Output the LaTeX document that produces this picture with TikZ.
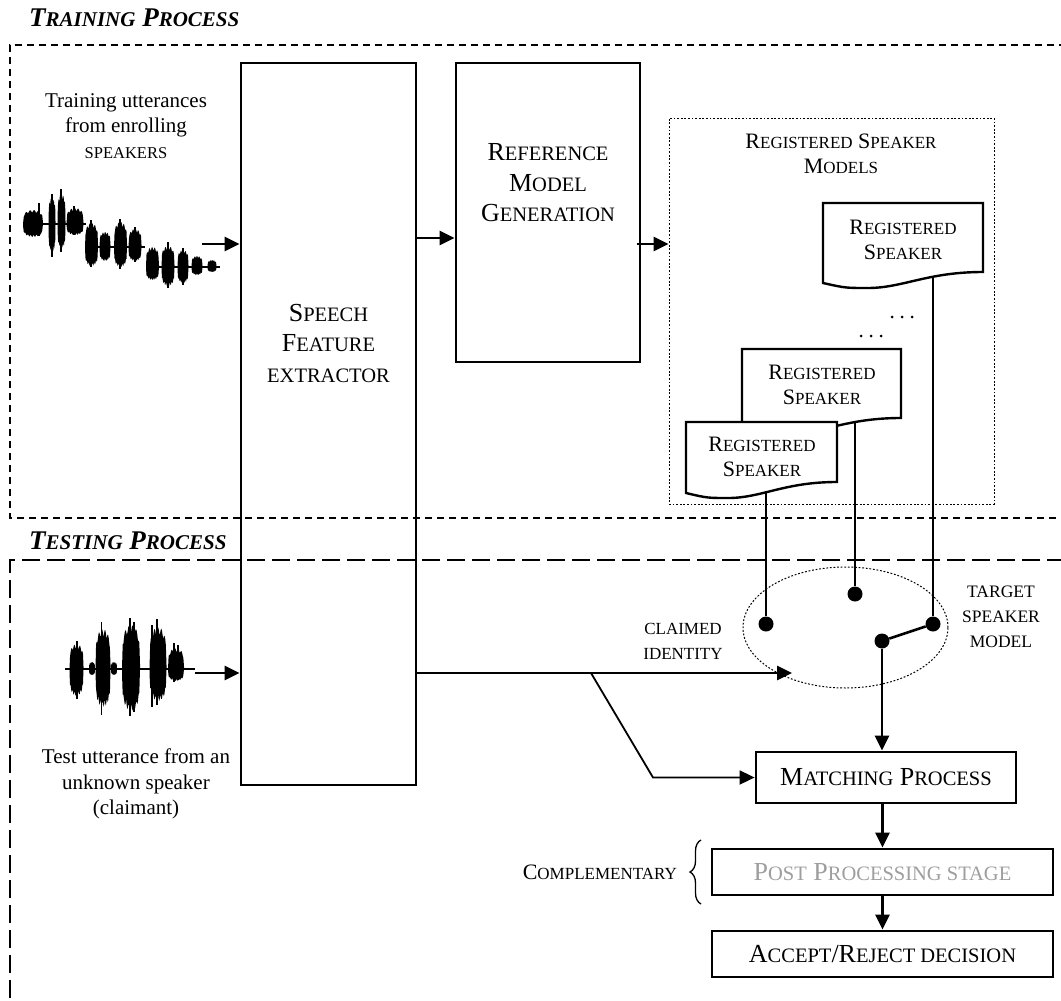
\documentclass[tikz,border=0pt]{standalone}
\usepackage{fontspec}
\setmainfont{Liberation Serif}
\usetikzlibrary{arrows.meta,shapes.geometric,decorations.pathreplacing}

% hand-made small capitals at the sizes used in the figure
\newcommand\smA[1]{{\fontsize{20.5}{20.5}\selectfont #1}}
\newcommand\smB[1]{{\fontsize{17}{17}\selectfont #1}}
\newcommand\smT[1]{{\fontsize{21}{21}\selectfont #1}}
\newcommand\smW[1]{{\fontsize{16.5}{16.5}\selectfont #1}}

% one ragged burst of a speech waveform: centre x, baseline y, half width, height above, depth below
\newcommand\burst[5]{%
  \fill plot[domain=-1:1,samples=27,variable=\t]
    ({#1+#3*\t},{#2-#4*sqrt(sqrt(max(0,1-\t*\t)))*(0.78+0.22*abs(sin(\t*1900+#1*37)))})
  -- plot[domain=1:-1,samples=27,variable=\t]
    ({#1+#3*\t},{#2+#5*sqrt(sqrt(max(0,1-\t*\t)))*(0.78+0.22*abs(cos(\t*1700+#1*53)))}) -- cycle;}
\newcommand\spike[3]{\draw[line width=1.8pt] (#1,#2) -- (#1,#3);}

% document symbol with a wavy lower edge
\newcommand\docshape[4]{%
  \draw[doc] (#1,#2) -- ({#1+#3},#2) -- ({#1+#3},{#2+#4})
    .. controls ({#1+0.65*#3},{#2+#4}) and ({#1+0.5*#3},{#2+#4+16}) .. ({#1+0.28*#3},{#2+#4+16})
    .. controls ({#1+0.14*#3},{#2+#4+16}) .. (#1,{#2+#4+11}) -- cycle;}

\begin{document}
\begin{tikzpicture}[x=1pt,y=-1pt,
  box/.style={draw, line width=2.8pt, inner sep=0},
  arr/.style={line width=2.6pt, -{Triangle[length=15pt,width=14pt]}},
  wire/.style={line width=2.6pt},
  dot/.style={circle, fill, inner sep=0, minimum size=15pt},
  doc/.style={fill=white, line width=2.4pt},
  bigtxt/.style={font=\fontsize{26}{30.5}\selectfont, align=center, inner sep=0},
  lbl/.style={font=\fontsize{22}{25}\selectfont, align=center, inner sep=0},
  txt/.style={font=\fontsize{21}{25.5}\selectfont, align=center, inner sep=0},
  tiny/.style={font=\fontsize{17}{25}\selectfont, align=center, inner sep=0},
  ttl/.style={font=\bfseries\itshape\fontsize{27}{27}\selectfont, anchor=base west, inner sep=0},
]
\useasboundingbox (0,0) rectangle (1061,1001);
\clip (0,0) rectangle (1061,1001);

% ---------- the two phases ----------
\draw[line width=2.1pt, dash pattern=on 7pt off 5pt] (1090,45) -- (10,45) -- (10,518) -- (1090,518);
\draw[line width=2.1pt, dash pattern=on 18pt off 7pt] (1090,560) -- (10,560) -- (10,1030);
\node[ttl] (trtitle) at (29,26) {T\smT{RAINING} P\smT{ROCESS}};
\node[ttl] (tetitle) at (29,549) {T\smT{ESTING} P\smT{ROCESS}};

% ---------- main blocks ----------
\node[box, minimum width=175pt, minimum height=722pt] (speech) at (328.5,424) {};
\node[bigtxt] (speecht) at (328.5,343) {S\smA{PEECH}\\F\smA{EATURE}\\\smA{EXTRACTOR}};
\node[box, minimum width=184pt, minimum height=299pt] (ref) at (548,212.5) {};
\node[bigtxt] (reft) at (548,183) {R\smA{EFERENCE}\\M\smA{ODEL}\\G\smA{ENERATION}};

% ---------- registered speaker models ----------
\node[draw, line width=1pt, dash pattern=on 1.8pt off 1.8pt, minimum width=325pt, minimum height=386pt, inner sep=0] (reg) at (831.5,311) {};
\node[lbl] (regt) at (841,154) {R\smB{EGISTERED} S\smB{PEAKER}\\M\smB{ODELS}};

% lines leaving the models (drawn first, the sheets cover their upper ends)
\coordinate (m1) at (933,268);
\coordinate (m2) at (856,412);
\coordinate (m3) at (766,480);
\node[dot] (d1) at (933,624) {};
\node[dot] (d2) at (855,594) {};
\node[dot] (d3) at (766,624) {};
\node[dot] (piv) at (882,641) {};
\draw[wire] (m1) -- (d1);
\draw[wire] (m2 -| d2) -- (d2);
\draw[wire] (m3) -- (d3);

\docshape{823}{203}{160}{69}
\node[lbl] (doc1) at (903,240) {R\smB{EGISTERED}\\S\smB{PEAKER}};
\docshape{742}{349}{159}{69}
\node[lbl] (doc2) at (822,385) {R\smB{EGISTERED}\\S\smB{PEAKER}};
\docshape{686}{422}{151}{60}
\node[lbl] (doc3) at (762,457) {R\smB{EGISTERED}\\S\smB{PEAKER}};
\fill (892,317) circle (1.5) (902,317) circle (1.5) (912,317) circle (1.5);
\fill (861,336) circle (1.5) (871,336) circle (1.5) (881,336) circle (1.5);

% ---------- identity selector ----------
\node[draw, ellipse, line width=1pt, dash pattern=on 1.8pt off 1.8pt, minimum width=205pt, minimum height=121pt, inner sep=0] (sel) at (845.5,627.5) {};
\draw[wire] (piv) -- (d1);
\node[tiny] (claim) at (683,641) {CLAIMED\\IDENTITY};
\node[tiny, font=\fontsize{17.5}{25}\selectfont] (target) at (1001,617) {TARGET\\SPEAKER\\MODEL};

% ---------- decision chain ----------
\node[box, minimum width=260pt, minimum height=51pt, font=\fontsize{26}{26}\selectfont] (match) at (886,777.5) {M\smA{ATCHING} P\smA{ROCESS}};
\node[box, minimum width=341pt, minimum height=46pt, font=\fontsize{26}{26}\selectfont, text=black!38] (post) at (882.5,872) {P\smA{OST} P\smA{ROCESSING STAGE}};
\node[box, minimum width=341pt, minimum height=46pt, font=\fontsize{26}{26}\selectfont] (accept) at (882.5,954) {A\smA{CCEPT}/R\smA{EJECT DECISION}};
\node[anchor=east, inner sep=0, font=\fontsize{22}{22}\selectfont] (compl) at (677,872) {C\smB{OMPLEMENTARY}};
\draw[decorate, decoration={brace, amplitude=11pt}, line width=1.3pt] (701,904) -- (701,840);

% ---------- waveforms ----------
\draw[line width=1.5pt] (23,224) -- (86,224);
\draw[line width=1.5pt] (86,247) -- (145,247);
\draw[line width=1.5pt] (147,267) -- (220,267);
\burst{33}{224}{10}{14}{13} \spike{39}{203}{236}
\burst{52}{224}{3.5}{26}{28} \spike{52}{194}{257}
\burst{61.5}{224}{4}{30}{24} \spike{61}{189}{252}
\burst{75}{224}{8.5}{16}{11} \spike{74}{206}{235}
\burst{91.5}{247}{6.5}{24}{19} \spike{91}{220}{267}
\burst{105}{247}{5.5}{15}{14}
\burst{120.5}{247}{6.5}{25}{20} \spike{120}{219}{269}
\burst{135}{247}{6.5}{18}{14} \spike{135}{227}{262}
\burst{152.5}{267}{6.5}{20}{13}
\burst{168}{267}{6.5}{21}{19} \spike{168}{242}{288}
\burst{183}{267}{5.5}{17}{16} \spike{183}{248}{285}
\burst{197}{267}{5.5}{11}{8}
\burst{212}{267}{4.5}{7}{5}
\coordinate (w1) at (202,244);

\draw[line width=1.5pt] (65,669) -- (195,669);
\burst{76.5}{669}{7}{25}{27} \spike{77}{641}{699}
\burst{92}{669}{3}{7}{6}
\burst{103}{669}{7.5}{40}{38} \spike{101.5}{622}{715}
\burst{114}{669}{3}{7}{6}
\burst{131}{669}{9}{44}{42} \spike{130}{618}{716} \spike{134}{622}{712}
\burst{158}{669}{8.5}{42}{32} \spike{157}{619}{705} \spike{152}{625}{707}
\burst{176}{669}{8}{21}{12} \spike{174}{643}{682} \spike{178}{645}{680}
\coordinate (w2) at (195,673);

\node[txt] (trainlbl) at (126,126) {Training utterances\\from enrolling\\\smW{SPEAKERS}};
\node[txt] (testlbl) at (136,784) {Test utterance from an\\unknown speaker\\(claimant)};

% ---------- connectors ----------
\draw[arr] (w1) -- (w1 -| speech.west);
\draw[arr] (w2) -- (w2 -| speech.west);
\draw[arr] (speech.east |- 0,238) -- (ref.west |- 0,238);
\draw[arr] ([xshift=-4pt]ref.east |- 0,244) -- (reg.west |- 0,244);
\coordinate (cl) at (792,673);
\coordinate (br) at (591,673);
\coordinate (bk) at (653,777.5);
\draw[arr] (speech.east |- cl) -- (cl);
\draw[line width=1.8pt, -{Triangle[length=15pt,width=14pt]}] (br) -- (bk) -- (match.west);
\draw[arr] (piv) -- (piv |- match.north);
\draw[arr] (match.south -| post.center) -- (post.north);
\draw[arr] (post.south) -- (accept.north);
\end{tikzpicture}
\end{document}
